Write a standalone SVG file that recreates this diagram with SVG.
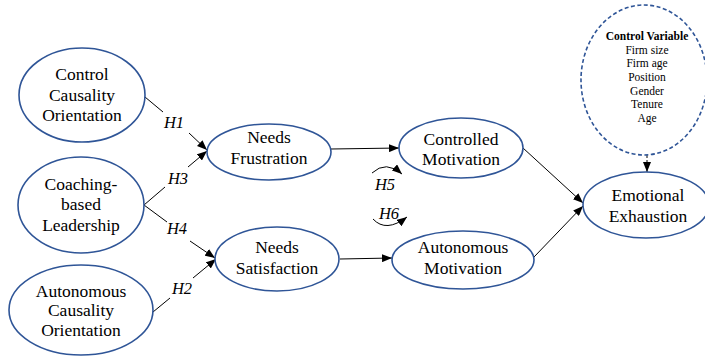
<svg xmlns="http://www.w3.org/2000/svg" width="705" height="356" viewBox="0 0 705 356">
<style>
.n{fill:#fff;stroke:#2f5597;stroke-width:1.6}
.d{fill:#fff;stroke:#2f5597;stroke-width:1.6;stroke-dasharray:4 2.5}
text{font-family:'Liberation Serif','Times New Roman',Times,'DejaVu Serif',serif;fill:#000;text-anchor:middle}
.t{font-size:17.5px}
.s{font-size:11.5px}
.h{font-size:16.5px;font-style:italic}
.c{fill:none;stroke:#000;stroke-width:1}
</style>
<defs>
<marker id="a" viewBox="0 0 10 8" refX="10" refY="4" markerWidth="10" markerHeight="8" markerUnits="userSpaceOnUse" orient="auto">
<path d="M0,0 L10,4 L0,8 Z" fill="#000"/>
</marker>
</defs>
<rect width="705" height="356" fill="#fff"/>
<g id="connectors">
<line class="c" x1="145" y1="97" x2="163" y2="112"/>
<line class="c" x1="189" y1="133" x2="207" y2="150" marker-end="url(#a)"/>
<line class="c" x1="144" y1="205" x2="165" y2="187"/>
<line class="c" x1="188" y1="167" x2="207" y2="151" marker-end="url(#a)"/>
<line class="c" x1="144" y1="205" x2="167" y2="222"/>
<line class="c" x1="190" y1="241" x2="215" y2="258" marker-end="url(#a)"/>
<line class="c" x1="153" y1="312" x2="170" y2="298"/>
<line class="c" x1="193" y1="278" x2="216" y2="259" marker-end="url(#a)"/>
<line class="c" x1="331" y1="149" x2="399" y2="148" marker-end="url(#a)"/>
<line class="c" x1="340" y1="259" x2="392" y2="258" marker-end="url(#a)"/>
<line class="c" x1="523" y1="148" x2="583" y2="203" marker-end="url(#a)"/>
<line class="c" x1="534" y1="257" x2="583" y2="206" marker-end="url(#a)"/>
<line class="c" x1="647" y1="155" x2="647" y2="172" stroke-dasharray="3 2" marker-end="url(#a)"/>
<path class="c" d="M372,173 Q386,160 402,174" marker-end="url(#a)"/>
<path class="c" d="M373,219 Q386,233 407,217" marker-end="url(#a)"/>
<text class="h" x="174" y="128">H1</text>
<text class="h" x="178" y="184">H3</text>
<text class="h" x="177" y="234">H4</text>
<text class="h" x="182" y="294">H2</text>
<text class="h" x="385" y="190">H5</text>
<text class="h" x="389" y="219">H6</text>
</g>
<g id="control-causality">
<ellipse class="n" cx="82" cy="95" rx="63" ry="47"/>
<text class="t" x="82" y="80">Control</text>
<text class="t" x="82" y="101">Causality</text>
<text class="t" x="82" y="121">Orientation</text>
</g>
<g id="coaching">
<ellipse class="n" cx="81" cy="205" rx="63" ry="48"/>
<text class="t" x="81" y="190">Coaching-</text>
<text class="t" x="81" y="210">based</text>
<text class="t" x="81" y="231">Leadership</text>
</g>
<g id="autonomous-causality">
<ellipse class="n" cx="81" cy="310" rx="72" ry="45"/>
<text class="t" x="81" y="297">Autonomous</text>
<text class="t" x="81" y="316">Causality</text>
<text class="t" x="81" y="336">Orientation</text>
</g>
<g id="needs-frustration">
<ellipse class="n" cx="269" cy="152" rx="62" ry="28"/>
<text class="t" x="269" y="143">Needs</text>
<text class="t" x="269" y="164">Frustration</text>
</g>
<g id="controlled-motivation">
<ellipse class="n" cx="461" cy="148" rx="62" ry="30"/>
<text class="t" x="461" y="145">Controlled</text>
<text class="t" x="461" y="165">Motivation</text>
</g>
<g id="needs-satisfaction">
<ellipse class="n" cx="277" cy="259" rx="62" ry="32"/>
<text class="t" x="277" y="253">Needs</text>
<text class="t" x="277" y="274">Satisfaction</text>
</g>
<g id="autonomous-motivation">
<ellipse class="n" cx="463" cy="260" rx="71" ry="29"/>
<text class="t" x="463" y="253">Autonomous</text>
<text class="t" x="463" y="274">Motivation</text>
</g>
<g id="emotional-exhaustion">
<ellipse class="n" cx="646" cy="205" rx="63" ry="33"/>
<text class="t" x="648" y="201">Emotional</text>
<text class="t" x="648" y="222">Exhaustion</text>
</g>
<g id="control-variable">
<ellipse class="d" cx="644" cy="80" rx="63" ry="75"/>
<text class="s" x="647" y="40" font-weight="bold">Control Variable</text>
<text class="s" x="647" y="54">Firm size</text>
<text class="s" x="647" y="67">Firm age</text>
<text class="s" x="647" y="81">Position</text>
<text class="s" x="647" y="95">Gender</text>
<text class="s" x="647" y="108">Tenure</text>
<text class="s" x="647" y="122">Age</text>
</g>
</svg>
